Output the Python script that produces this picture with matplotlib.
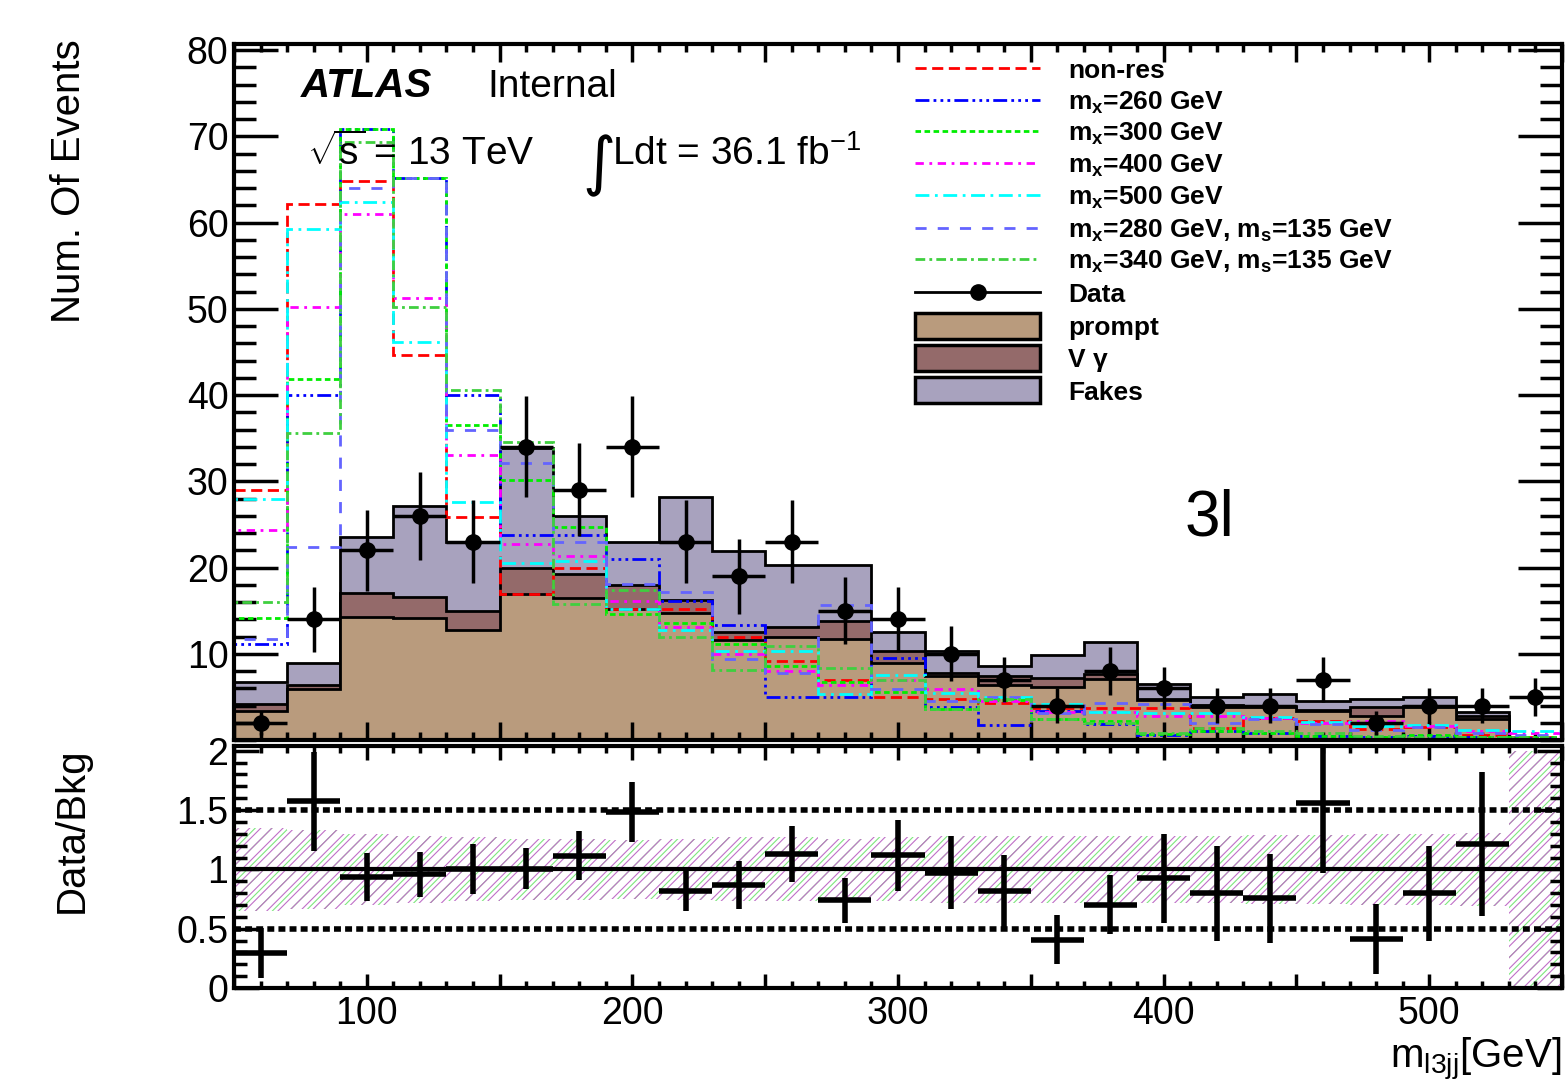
import numpy as np
import matplotlib
matplotlib.use('Agg')
import matplotlib.pyplot as plt
from matplotlib.patches import Rectangle
from matplotlib.lines import Line2D

plt.rcParams['font.family'] = ['Liberation Sans', 'DejaVu Sans']
plt.rcParams['mathtext.fontset'] = 'custom'
plt.rcParams['mathtext.rm'] = 'Liberation Sans'
plt.rcParams['mathtext.it'] = 'Liberation Sans:italic'
plt.rcParams['mathtext.bf'] = 'Liberation Sans:bold'
plt.rcParams['lines.scale_dashes'] = False
plt.rcParams['hatch.linewidth'] = 0.8

# binning: 20 GeV bins from 50 to 550
edges = np.arange(50, 551, 20)
centers = edges[:-1] + 10

data = [2, 14, 22, 26, 23, 34, 29, 34, 23, 19, 23, 15, 14, 10, 7, 4, 8, 6, 4, 4, 7, 2, 4, 4, 5]

# backgrounds (stacked: prompt, V gamma, fakes)
prompt = [3.4, 5.9, 14.3, 14.1, 12.7, 16.9, 16.5, 15.2, 14.7, 11.6, 11.9, 11.7, 8.9, 7.4, 6.4, 6.2,
          7.1, 4.6, 3.8, 3.8, 3.4, 2.8, 3.8, 2.4, 0]
vgamma = [0.8, 0.5, 2.8, 2.5, 2.3, 3.1, 2.8, 2.8, 1.5, 0.9, 1.2, 2.1, 1.4, 0.4, 1.0, 1.0,
          0.6, 0.2, 0.3, 0.2, 0.1, 1.0, 0.1, 0.4, 0]
fakes = [2.5, 2.5, 6.4, 10.5, 7.9, 13.8, 6.7, 4.9, 12.0, 9.4, 7.2, 6.5, 2.2, 2.5, 1.2, 2.6,
         3.7, 1.7, 0.9, 1.3, 1.0, 1.0, 1.1, 0.5, 0]

# relative bkg uncertainty for the ratio band
bkg_unc = [0.35, 0.33, 0.30, 0.28, 0.27, 0.26, 0.26, 0.25, 0.26, 0.27, 0.27, 0.26, 0.27, 0.28,
           0.28, 0.28, 0.28, 0.28, 0.28, 0.29, 0.29, 0.30, 0.30, 0.31, 1.0]

# signals
nonres = [29.0, 62.1, 64.8, 44.6, 25.8, 16.9, 19.9, 15.2, 15.2, 11.9, 9.2, 7.0, 5.0, 4.7, 4.3, 3.7,
          3.7, 3.7, 1.4, 2.6, 2.2, 1.3, 1.5, 0.6, 0.4]
m260 = [11.1, 40.0, 70.8, 65.2, 40.0, 23.8, 23.8, 21.0, 16.1, 13.3, 5.0, 5.0, 9.5, 3.8, 1.7, 3.4,
        1.8, 0.6, 1.0, 0.8, 0.5, 0.4, 0.5, 0.3, 0.2]
m300 = [14.1, 41.9, 70.8, 65.2, 36.5, 30.1, 24.7, 14.6, 13.6, 11.1, 8.6, 6.7, 5.6, 3.6, 4.6, 2.4,
        2.2, 0.7, 1.0, 0.8, 0.5, 0.4, 0.6, 0.3, 0.4]
m400 = [24.3, 50.2, 61.0, 51.2, 33.1, 22.7, 21.3, 16.1, 13.1, 10.0, 8.0, 6.4, 7.0, 5.9, 4.5, 3.2,
        3.3, 2.8, 2.8, 2.6, 2.0, 2.2, 1.6, 1.0, 0.8]
m500 = [27.9, 59.3, 62.4, 46.1, 27.6, 20.5, 20.8, 15.2, 12.8, 10.3, 10.3, 5.3, 7.5, 5.4, 5.0, 4.2,
        3.2, 3.1, 3.1, 2.7, 2.1, 1.6, 1.7, 1.2, 1.0]
m280_s135 = [11.7, 22.4, 64.0, 65.2, 35.9, 32.1, 22.9, 18.1, 17.2, 9.4, 7.8, 15.6, 5.9, 4.5, 5.0, 3.1,
             4.3, 4.2, 2.0, 2.4, 1.8, 1.2, 1.5, 0.8, 0.6]
m340_s135 = [16.0, 35.6, 69.3, 50.2, 40.6, 34.6, 15.8, 17.4, 11.9, 8.1, 10.9, 8.3, 7.0, 3.6, 4.7, 2.4,
             2.0, 0.8, 1.4, 1.0, 0.8, 0.5, 0.4, 0.3, 0.3]

signals = [
    ('non-res', nonres, '#ff0000', (0, (8, 4))),
    (r'$\mathbf{m_{x}}$=260 GeV', m260, '#0000ff', (0, (10, 3, 2, 3, 2, 3, 2, 3))),
    (r'$\mathbf{m_{x}}$=300 GeV', m300, '#00ee00', (0, (4, 2.5))),
    (r'$\mathbf{m_{x}}$=400 GeV', m400, '#ff00ff', (0, (6, 4, 2, 4))),
    (r'$\mathbf{m_{x}}$=500 GeV', m500, '#00ffff', (0, (10, 4, 2, 4))),
    (r'$\mathbf{m_{x}}$=280 GeV, $\mathbf{m_{s}}$=135 GeV', m280_s135, '#6464ff', (0, (8, 8))),
    (r'$\mathbf{m_{x}}$=340 GeV, $\mathbf{m_{s}}$=135 GeV', m340_s135, '#3fcf3f', (0, (7, 3, 2, 3))),
]

c_prompt = '#b99b7d'
c_vgamma = '#946a6a'
c_fakes = '#a8a2be'

fig = plt.figure(figsize=(15.65, 10.82), dpi=100)
ax = fig.add_axes([234 / 1565, 1 - 740 / 1082, 1328 / 1565, 696 / 1082])
rax = fig.add_axes([234 / 1565, 1 - 988 / 1082, 1328 / 1565, 242 / 1082])

prompt = np.array(prompt)
vgamma = np.array(vgamma)
fakes = np.array(fakes)
bkg = prompt + vgamma + fakes
data = np.array(data, dtype=float)

# stack, drawn from the top down like ROOT does
ax.stairs(bkg, edges, baseline=0, fill=True, facecolor=c_fakes, edgecolor='black', lw=2, zorder=1)
ax.stairs(prompt + vgamma, edges, baseline=0, fill=True, facecolor=c_vgamma, edgecolor='black', lw=2, zorder=1.1)
ax.stairs(prompt, edges, baseline=0, fill=True, facecolor=c_prompt, edgecolor='black', lw=2, zorder=1.2)

for label, vals, col, ls in signals:
    ax.stairs(vals, edges, baseline=0, color=col, linestyle=ls, lw=2, zorder=2)

ax.errorbar(centers, data, xerr=10, yerr=np.sqrt(data), fmt='o', color='black', ms=11,
            elinewidth=2.5, capsize=0, zorder=3)

ax.set_xlim(50, 550)
ax.set_ylim(0, 80.7)
ax.set_yticks(np.arange(10, 81, 10))
ax.set_yticks(np.arange(0, 81, 2), minor=True)
ax.set_xticks(np.arange(50, 551, 50))
ax.set_xticks(np.arange(50, 551, 10), minor=True)
ax.tick_params(which='both', direction='in', top=True, right=True, width=2.5, labelsize=27, pad=4)
ax.tick_params(axis='y', which='major', length=32)
ax.tick_params(axis='y', which='minor', length=16)
ax.tick_params(axis='x', which='major', length=13)
ax.tick_params(axis='x', which='minor', length=6)
ax.tick_params(axis='x', labelbottom=False)
for s in ax.spines.values():
    s.set_linewidth(3)

# labels on the main pad
ax.text(0.05, 0.924, 'ATLAS', transform=ax.transAxes, fontsize=29, fontweight='bold',
        fontstyle='italic', va='baseline')
ax.text(0.191, 0.924, 'Internal', transform=ax.transAxes, fontsize=28, va='baseline')
ax.text(0.055, 0.826, r'$\sqrt{\mathregular{s}}$ = 13 TeV', transform=ax.transAxes, fontsize=28,
        va='baseline')
ax.text(0.262, 0.80, '\u222b', transform=ax.transAxes, fontsize=46, va='baseline',
        family=['DejaVu Sans'])
ax.text(0.285, 0.826, r'Ldt = 36.1 fb$^{\mathregular{-1}}$', transform=ax.transAxes, fontsize=28,
        va='baseline')
ax.text(0.716, 0.2945, '3l', transform=ax.transAxes, fontsize=46, va='baseline')

# legend, laid out row by row as in the ROOT TLegend
row_y = [68, 100, 131, 163, 195, 228, 259, 292, 326, 358, 390]
x0, x1, xt = (915 - 234) / 1328, (1040 - 234) / 1328, (1068 - 234) / 1328
entries = [(s[0], 'line', s[2], s[3]) for s in signals]
entries += [('Data', 'data', 'black', '-'), ('prompt', 'box', c_prompt, None),
            ('V \u03b3', 'box', c_vgamma, None), ('Fakes', 'box', c_fakes, None)]
for (label, kind, col, ls), yp in zip(entries, row_y):
    ya = (740 - yp) / 696
    if kind == 'line':
        ax.add_line(Line2D([x0, x1], [ya, ya], transform=ax.transAxes, color=col, ls=ls, lw=2))
    elif kind == 'data':
        ax.add_line(Line2D([x0, x1], [ya, ya], transform=ax.transAxes, color=col, lw=2))
        ax.add_line(Line2D([(x0 + x1) / 2], [ya], transform=ax.transAxes, color=col, marker='o', ms=11))
    else:
        ax.add_patch(Rectangle((x0, ya - 13 / 696), x1 - x0, 26 / 696, transform=ax.transAxes,
                               facecolor=col, edgecolor='black', lw=2.5, zorder=4))
    ax.text(xt, ya, label, transform=ax.transAxes, fontsize=19, fontweight='bold',
            va='center_baseline', zorder=5)

# ratio pad
ratio_mask = bkg > 0
ratio = data[ratio_mask] / bkg[ratio_mask]
ratio_err = np.sqrt(data[ratio_mask]) / bkg[ratio_mask]
unc = np.array(bkg_unc)
band_lo = np.clip(1 - unc, 0, None)
band_hi = np.clip(1 + unc, None, 2.04)
rax.stairs(band_hi, edges, baseline=band_lo, fill=True, facecolor='none', edgecolor='#7fe67f',
           hatch='//', lw=0, zorder=0.9)
rax.stairs(band_hi, edges, baseline=band_lo, fill=True, facecolor='none', edgecolor='#c070c8',
           hatch='///', lw=0, zorder=1)
rax.axhline(1, color='black', lw=3, zorder=2)
rax.axhline(1.5, color='black', lw=4, ls=(0, (5, 3)), zorder=2)
rax.axhline(0.5, color='black', lw=4, ls=(0, (5, 3)), zorder=2)
rax.errorbar(centers[ratio_mask], ratio, xerr=10, yerr=ratio_err, fmt='none', ecolor='black',
             elinewidth=4, capsize=0, zorder=3)

rax.set_xlim(50, 550)
rax.set_ylim(0, 2.04)
rax.set_yticks([0, 0.5, 1, 1.5, 2])
rax.set_yticklabels(['0', '0.5', '1', '1.5', '2'])
rax.set_yticks(np.arange(0, 2.01, 0.1), minor=True)
xt_major = np.arange(50, 551, 50)
rax.set_xticks(xt_major)
rax.set_xticklabels([str(v) if v % 100 == 0 else '' for v in xt_major])
rax.set_xticks(np.arange(50, 551, 10), minor=True)
rax.tick_params(which='both', direction='in', top=True, right=True, width=2.5, labelsize=27)
rax.tick_params(axis='y', which='major', length=18, pad=4)
rax.tick_params(axis='y', which='minor', length=9)
rax.tick_params(axis='x', which='major', length=10, pad=6)
rax.tick_params(axis='x', which='minor', length=5)
for s in rax.spines.values():
    s.set_linewidth(3)

fig.text(0.044, 0.833, 'Num. Of Events', rotation=90, fontsize=29, ha='center', va='center')
fig.text(0.046, 0.233, 'Data/Bkg', rotation=90, fontsize=29, ha='center', va='center')
fig.text(0.998, 0.013, r'm$_{\mathregular{l3jj}}$[GeV]', fontsize=29, ha='right', va='baseline')

fig.savefig('out.png', dpi=100)
